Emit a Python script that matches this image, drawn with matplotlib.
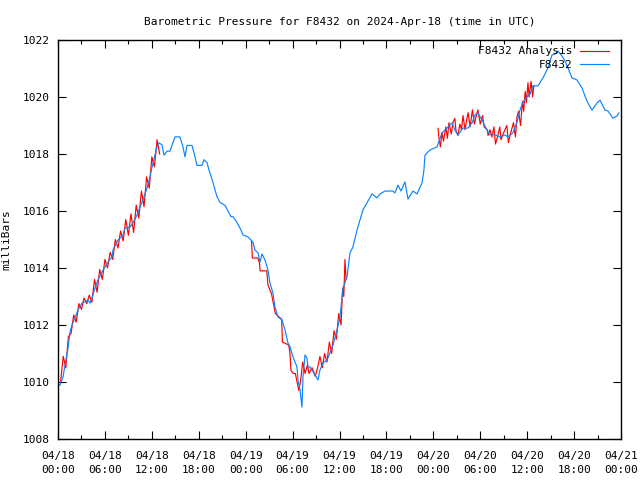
import matplotlib
matplotlib.use("Agg")
import matplotlib.pyplot as plt
from matplotlib.ticker import MultipleLocator, FuncFormatter
import numpy as np

# ---- data (hours since 2024-04-18 00:00 UTC, pressure in mbar) ----
obs_hours = [0, 0.26, 0.64, 0.9, 1.28, 1.53, 1.79, 2.17, 2.56, 3.07, 3.45, 3.84, 4.09, 4.35,
             4.73, 5.12, 5.63, 6.01, 6.39, 6.91, 7.03, 7.67, 8.31, 8.57, 9.21, 9.59, 10.1,
             10.49, 10.87, 11.38, 11.76, 12.02, 12.40, 12.66, 12.92, 13.30, 13.55, 13.94,
             14.32, 14.71, 14.96, 15.6, 15.98, 16.24, 16.5, 17.14, 17.52, 17.77, 18.41,
             18.67, 19.05, 19.31, 19.82, 20.08, 20.33, 20.72, 21.36, 21.74, 22.12, 22.38,
             22.89, 23.4, 23.66, 24.3, 24.94, 25.19, 25.58, 25.83, 26.09, 26.47, 26.85,
             27.11, 27.49, 27.75, 28.13, 28.64, 29.03, 29.41, 29.67, 30.05, 30.56, 30.69,
             30.95, 31.2, 31.33, 31.59, 31.84, 31.97, 32.23, 32.48, 32.86, 33.25, 33.5,
             33.89, 34.4, 34.78, 35.17, 35.68, 36.06, 36.32, 36.45, 36.96, 37.34, 37.72,
             38.24, 38.62, 39.0, 39.51, 40.15, 40.79, 41.18, 41.82, 42.84, 43.09, 43.48,
             43.86, 44.37, 44.76, 45.4, 45.91, 46.55, 46.8, 46.93, 47.19, 47.57, 48.47,
             49.1, 49.74, 50.38, 50.77, 51.15, 51.79, 52.43, 52.94, 53.32, 53.71, 54.22,
             54.86, 55.24, 55.88, 56.52, 57.16, 57.54, 58.18, 58.7, 59.08, 59.46, 59.97,
             60.36, 60.74, 61.38, 62.02, 62.66, 63.17, 63.55, 63.94, 64.45, 64.83, 65.22,
             65.73, 66.37, 67.01, 67.39, 67.77, 68.29, 68.93, 69.31, 69.95, 70.33, 70.97,
             71.48, 71.74]
obs_values = [1009.89, 1009.89, 1010.18, 1010.60, 1011.19, 1011.75, 1012.0, 1012.25, 1012.53,
              1012.77, 1012.81, 1012.88, 1012.77, 1012.95, 1013.30, 1013.58, 1013.86, 1014.04,
              1014.21, 1014.39, 1014.63, 1014.98, 1015.16, 1015.40, 1015.44, 1015.58, 1015.86,
              1016.14, 1016.39, 1016.81, 1017.19, 1017.54, 1017.96, 1018.25, 1018.39, 1018.32,
              1017.96, 1018.1, 1018.1, 1018.4, 1018.6, 1018.6, 1018.25, 1017.9, 1018.3, 1018.3,
              1017.9, 1017.6, 1017.6, 1017.8, 1017.7, 1017.44, 1017.0, 1016.74, 1016.5, 1016.3,
              1016.2, 1016.0, 1015.8, 1015.8, 1015.6, 1015.33, 1015.16, 1015.09, 1014.9,
              1014.63, 1014.53, 1014.21, 1014.49, 1014.28, 1013.93, 1013.47, 1013.12, 1012.63,
              1012.28, 1012.18, 1011.82, 1011.37, 1011.23, 1010.88, 1010.53, 1010.07, 1009.72,
              1009.12, 1010.18, 1010.95, 1010.84, 1010.53, 1010.53, 1010.42, 1010.25, 1010.07,
              1010.42, 1010.67, 1010.77, 1011.02, 1011.30, 1011.82, 1012.28, 1012.95, 1013.3,
              1013.68, 1014.53, 1014.74, 1015.33, 1015.68, 1016.04, 1016.28, 1016.6, 1016.46,
              1016.6, 1016.7, 1016.7, 1016.63, 1016.91, 1016.7, 1017.02, 1016.42, 1016.7,
              1016.6, 1016.98, 1017.44, 1017.96, 1018.04, 1018.14, 1018.25, 1018.74, 1018.91,
              1019.09, 1018.84, 1018.67, 1018.91, 1018.91, 1019.09, 1019.37, 1019.44, 1019.19,
              1018.84, 1018.67, 1018.67, 1018.6, 1018.67, 1018.6, 1018.74, 1019.12, 1019.54,
              1019.82, 1020.0, 1020.1, 1020.39, 1020.39, 1020.67, 1021.02, 1021.47, 1021.51,
              1021.61, 1021.44, 1021.26, 1021.02, 1020.67, 1020.6, 1020.32, 1020.04, 1019.79,
              1019.54, 1019.79, 1019.89, 1019.54, 1019.51, 1019.26, 1019.33, 1019.44]

ana1_hours = [0.33, 0.67, 1.0, 1.33, 1.67, 2.0, 2.33, 2.67, 3.0, 3.33, 3.67, 4.0, 4.33, 4.67,
              5.0, 5.33, 5.67, 6.0, 6.33, 6.67, 7.0, 7.33, 7.67, 8.0, 8.33, 8.67, 9.0, 9.33,
              9.67, 10.0, 10.33, 10.67, 11.0, 11.33, 11.67, 12.0, 12.33, 12.67, 13.0]
ana1_values = [1010.0, 1010.9, 1010.5, 1011.6, 1011.7, 1012.35, 1012.1, 1012.75, 1012.55,
               1012.95, 1012.75, 1013.05, 1012.8, 1013.6, 1013.15, 1013.95, 1013.6, 1014.3,
               1014.0, 1014.55, 1014.3, 1015.0, 1014.7, 1015.3, 1014.95, 1015.7, 1015.15,
               1015.9, 1015.25, 1016.2, 1015.75, 1016.7, 1016.15, 1017.2, 1016.8, 1017.9,
               1017.55, 1018.5, 1018.0]

ana2_hours = [24.75, 24.85, 25.55, 25.75, 25.85, 26.7, 26.85, 27.3, 27.8, 28.6, 28.7, 29.5,
              29.65, 29.8, 30.1, 30.35, 30.8, 31.0, 31.3, 31.6, 31.9, 32.1, 32.5, 32.9, 33.2,
              33.5, 33.8, 34.1, 34.4, 34.7, 35.0, 35.3, 35.6, 35.9, 36.2, 36.4, 36.55, 36.7,
              36.85]
ana2_values = [1014.95, 1014.35, 1014.35, 1014.2, 1013.9, 1013.9, 1013.4, 1013.1, 1012.4,
               1012.2, 1011.4, 1011.3, 1011.05, 1010.4, 1010.3, 1010.3, 1009.7, 1010.0,
               1010.7, 1010.3, 1010.6, 1010.3, 1010.5, 1010.2, 1010.5, 1010.9, 1010.5, 1011.0,
               1010.7, 1011.4, 1011.0, 1011.8, 1011.5, 1012.4, 1012.0, 1013.3, 1013.0, 1014.3,
               1013.6]

ana3_hours = [48.6, 48.7, 48.9, 49.1, 49.3, 49.6, 49.8, 50.0, 50.3, 50.5, 50.75, 50.9, 51.15,
              51.4, 51.6, 51.8, 52.05, 52.3, 52.45, 52.7, 53.0, 53.25, 53.5, 53.7, 54.0, 54.3,
              54.5, 54.9, 55.0, 55.25, 55.5, 55.75, 55.95, 56.25, 56.5, 56.65, 57.0, 57.4,
              57.6, 57.9, 58.25, 58.5, 58.7, 58.9, 59.15, 59.4, 59.55, 59.75, 59.9, 60.1,
              60.25, 60.5, 60.7, 60.85]
ana3_values = [1018.9, 1018.6, 1018.25, 1018.75, 1018.45, 1018.95, 1018.55, 1019.1, 1018.7,
               1019.1, 1019.25, 1018.8, 1018.65, 1019.05, 1018.85, 1019.35, 1018.85, 1019.25,
               1019.45, 1018.95, 1019.55, 1019.05, 1019.35, 1019.55, 1019.05, 1019.35,
               1018.95, 1018.85, 1018.65, 1018.85, 1018.6, 1018.95, 1018.35, 1018.65, 1018.95,
               1018.5, 1018.75, 1019.0, 1018.4, 1018.75, 1019.1, 1018.6, 1019.3, 1019.5,
               1019.0, 1019.85, 1019.5, 1020.2, 1019.8, 1020.5, 1020.0, 1020.55, 1020.0,
               1020.4]

tick_labels = ["04/18\n00:00", "04/18\n06:00", "04/18\n12:00", "04/18\n18:00",
               "04/19\n00:00", "04/19\n06:00", "04/19\n12:00", "04/19\n18:00",
               "04/20\n00:00", "04/20\n06:00", "04/20\n12:00", "04/20\n18:00",
               "04/21\n00:00"]

# ---- figure ----
plt.rcParams['font.family'] = ['DejaVu Sans Mono']
fig = plt.figure(figsize=(6.4, 4.8), dpi=100)
ax = fig.add_axes([58/640, 1-439/480, (621-58)/640, (439-40)/480])

red = '#ff0000'
blue = '#0a84ff'
ax.plot(ana1_hours, ana1_values, color=red, lw=0.85, label='F8432 Analysis')
ax.plot(ana2_hours, ana2_values, color=red, lw=0.85)
ax.plot(ana3_hours, ana3_values, color=red, lw=0.85)
ax.plot(obs_hours, obs_values, color=blue, lw=0.85, label='F8432')

ax.set_xlim(0, 72)
ax.set_ylim(1008, 1022)
ax.set_xticks(np.arange(0, 73, 6))
ax.xaxis.set_minor_locator(MultipleLocator(3))
ax.set_xticklabels(tick_labels, fontsize=8, linespacing=1.45)
ax.yaxis.set_major_locator(MultipleLocator(2))
ax.yaxis.set_major_formatter(FuncFormatter(lambda v, p: f"{int(v)}"))
ax.tick_params(axis='both', which='major', direction='in', length=6, width=0.8,
               top=True, right=True, labelsize=8)
ax.tick_params(axis='x', which='major', pad=9)
ax.tick_params(axis='y', which='major', pad=6)
ax.tick_params(axis='x', which='minor', direction='in', length=3, width=0.8, top=True)
for s in ax.spines.values():
    s.set_linewidth(1.0)

ax.set_ylabel('milliBars', fontsize=8, labelpad=8)
ax.set_title('Barometric Pressure for F8432 on 2024-Apr-18 (time in UTC)', fontsize=8, pad=11)

leg = ax.legend(loc='upper right', bbox_to_anchor=(1 - 8/563, 1 - 2/399),
                frameon=False, markerfirst=False, fontsize=8,
                handlelength=2.6, handletextpad=0.6, borderaxespad=0.1, labelspacing=0.3,
                borderpad=0.3)
for t in leg.get_texts():
    t.set_ha('right')
leg._legend_box.align = "right"

fig.savefig('out.png', dpi=100)
